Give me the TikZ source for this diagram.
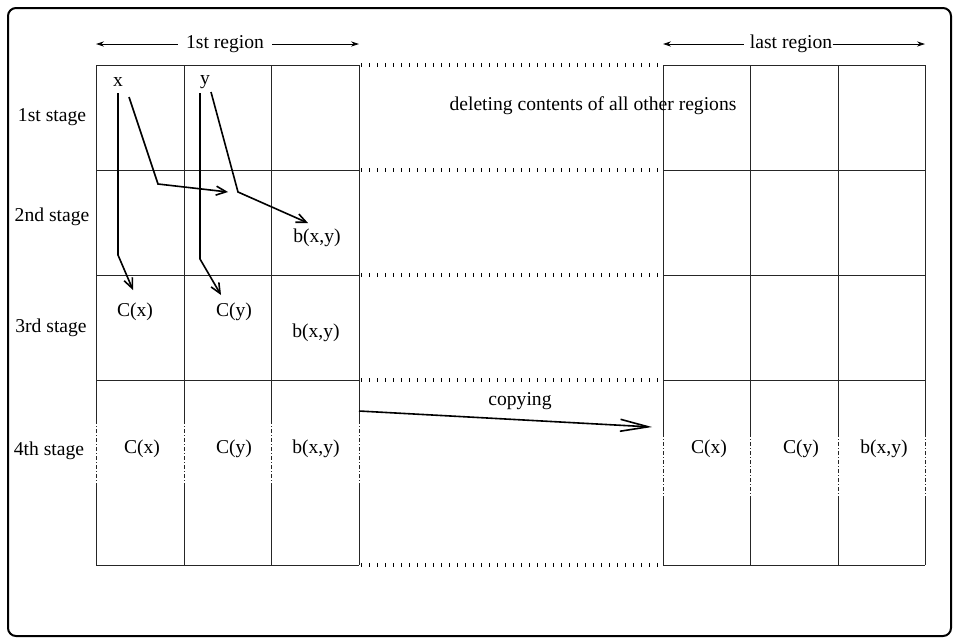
\documentclass[tikz,border=0pt]{standalone}
\usepackage{fontspec}
\setmainfont{Liberation Serif}
\usetikzlibrary{arrows.meta}

\tikzset{
  txt/.style={font=\fontsize{9.8}{12}\selectfont, inner sep=0pt},
  grid/.style={line width=0.5pt, black!85},
  gap/.style={line width=0.5pt, black!85, dash pattern=on 2pt off 1pt on 0.5pt off 1pt},
  ticks/.style={line width=2pt, dash pattern=on 0.5pt off 3.5pt},
  flow/.style={line width=0.8pt, -{Straight Barb[length=5pt,width=4.5pt,line width=0.8pt]}},
  copyarrow/.style={line width=0.8pt, -{Straight Barb[length=14pt,width=6pt,line width=0.8pt]}},
  span/.style={line width=0.4pt, -{Stealth[length=4pt,width=2.6pt]}},
}

\begin{document}
\begin{tikzpicture}[x=0.5pt, y=-0.5pt]
  \useasboundingbox (0,0) rectangle (958,639);
  \draw[line width=1pt, rounded corners=4pt] (8,8) rectangle (951,636);

  % region headers
  \node[txt, inner xsep=4pt] (reg1) at (225,44) {1st region};
  \coordinate (reg1l) at (96,44);
  \coordinate (reg1r) at (359,44);
  \draw[span] (reg1.west) -- (reg1l);
  \draw[span] (reg1.east) -- (reg1r);
  \node[txt, inner xsep=3pt] (regN) at (791,44) {last region};
  \coordinate (regNl) at (663,44);
  \coordinate (regNr) at (925,44);
  \draw[span] (regN.west) -- (regNl);
  \draw[span] ([xshift=-3pt]regN.east) -- (regNr);

  % stage labels
  \node[txt] (st1) at (52,117) {1st stage};
  \node[txt] (st2) at (52,217) {2nd stage};
  \node[txt] (st3) at (51,328) {3rd stage};
  \node[txt] (st4) at (49,451) {4th stage};

  % grids of the first and the last region
  \foreach \y in {65,170,275,380,565} {
    \draw[grid] (96,\y) -- (359,\y);
    \draw[grid] (663,\y) -- (925,\y);
    \draw[ticks] (361,\y) -- (660,\y);
  }
  \foreach \x in {96,184,271,359} {
    \draw[grid] (\x,65) -- (\x,420);
    \draw[gap] (\x,420) -- (\x,487);
    \draw[grid] (\x,487) -- (\x,565);
  }
  \foreach \x in {663,750,838,925} {
    \draw[grid] (\x,65) -- (\x,433);
    \draw[gap] (\x,433) -- (\x,496);
    \draw[grid] (\x,496) -- (\x,565);
  }

  % contents
  \node[txt] (x) at (118,82) {x};
  \node[txt] (y) at (205,82) {y};
  \node[txt] (b2) at (317,238) {b(x,y)};
  \node[txt] (cx3) at (135,312) {C(x)};
  \node[txt] (cy3) at (234,312) {C(y)};
  \node[txt] (b3) at (316,333) {b(x,y)};
  \node[txt] (cx4) at (142,449) {C(x)};
  \node[txt] (cy4) at (234,449) {C(y)};
  \node[txt] (b4) at (316,449) {b(x,y)};
  \node[txt] (cxN) at (709,449) {C(x)};
  \node[txt] (cyN) at (801,449) {C(y)};
  \node[txt] (bN) at (884,449) {b(x,y)};
  \node[txt] (del) at (593,106) {deleting contents of all other regions};
  \node[txt] (copy) at (520,401) {copying};

  % flows
  \coordinate (xa) at (118,93);
  \coordinate (xb) at (129,97);
  \coordinate (ya) at (200,93);
  \coordinate (yb) at (211,92);
  \coordinate (cxend) at (133,290);
  \coordinate (cyend) at (221,295);
  \coordinate (mid) at (228,192);
  \coordinate (bend) at (308,223);
  \draw[flow] (xa) -- (118,255) -- (cxend);
  \draw[flow] (xb) -- (158,184) -- (mid);
  \draw[flow] (ya) -- (200,259) -- (cyend);
  \draw[flow] (yb) -- (238,192) -- (bend);
  \coordinate (cpa) at (359,411);
  \coordinate (cpb) at (652,427);
  \draw[copyarrow] (cpa) -- (cpb);
\end{tikzpicture}
\end{document}
